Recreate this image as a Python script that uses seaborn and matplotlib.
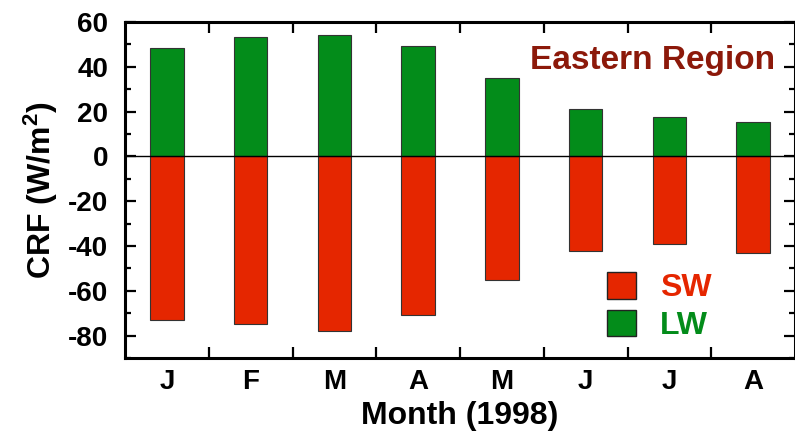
import matplotlib
matplotlib.use("Agg")
import matplotlib.pyplot as plt
import seaborn as sns
import pandas as pd
from matplotlib.ticker import MultipleLocator, FixedLocator
from matplotlib.patches import Patch

months = ["Jan", "Feb", "Mar", "Apr", "May", "Jun", "Jul", "Aug"]
month_labels = ["J", "F", "M", "A", "M", "J", "J", "A"]
lw_values = [48.5, 53.1, 54.2, 49.4, 35.1, 21.3, 17.6, 15.5]
sw_values = [-73.1, -74.9, -77.8, -70.6, -55.1, -42.2, -39.0, -43.1]
series_names = ["SW", "LW"]
colors = {"SW": "#e52600", "LW": "#038c1a"}
title_color = "#8c190a"

sns.set_style("ticks")
plt.rcParams["font.family"] = ["Liberation Sans", "DejaVu Sans"]
plt.rcParams["font.weight"] = "bold"
plt.rcParams["mathtext.fontset"] = "custom"
plt.rcParams["mathtext.rm"] = "Liberation Sans:bold"
plt.rcParams["mathtext.bf"] = "Liberation Sans:bold"
plt.rcParams["mathtext.default"] = "rm"
plt.rcParams["axes.unicode_minus"] = False
for k in ["text.color", "axes.labelcolor", "xtick.color", "ytick.color",
          "axes.edgecolor"]:
    plt.rcParams[k] = "black"

df = pd.DataFrame({
    "month": months * 2,
    "CRF": sw_values + lw_values,
    "type": ["SW"] * len(months) + ["LW"] * len(months),
})

fig = plt.figure(figsize=(7.95, 4.45), dpi=100)
W, H = 795, 445
ax = fig.add_axes([125 / W, (H - 358) / H, 670 / W, 336 / H])

sns.barplot(data=df, x="month", y="CRF", hue="type", order=months,
            hue_order=series_names, palette=colors, dodge=False, width=0.4,
            saturation=1, edgecolor="#333333", linewidth=0.8, ax=ax,
            legend=False)

ax.axhline(0, color="black", lw=1.0, zorder=3)
ax.set_xlim(-0.5, 7.5)
ax.set_ylim(-90, 60)

# x ticks: marks at boundaries, labels at centers
ax.xaxis.set_major_locator(FixedLocator([i + 0.5 for i in range(7)]))
ax.xaxis.set_minor_locator(FixedLocator(list(range(8))))
ax.set_xticklabels([], minor=False)
ax.set_xticklabels(month_labels, minor=True)
ax.tick_params(axis="x", which="major", direction="in", length=8, width=1.6,
               top=True, bottom=True, color="black")
ax.tick_params(axis="x", which="minor", length=0, pad=8, labelsize=20,
               labelcolor="black")

ax.yaxis.set_major_locator(MultipleLocator(20))
ax.yaxis.set_minor_locator(MultipleLocator(10))
ax.tick_params(axis="y", which="major", direction="in", length=8, width=1.6,
               left=True, right=True, labelsize=20, pad=12, color="black",
               labelcolor="black")
ax.tick_params(axis="y", which="minor", direction="in", length=4.3, width=1.6,
               left=True, right=True, color="black")
for lab in ax.get_xticklabels(minor=True) + ax.get_yticklabels():
    lab.set_fontweight("bold")

for sp in ax.spines.values():
    sp.set_visible(True)
    sp.set_linewidth(2.2)
    sp.set_color("black")

ax.set_xlabel("Month (1998)", fontsize=23, fontweight="bold", labelpad=4,
              color="black")
ax.set_ylabel("CRF (W/m$^2$)", fontsize=23, fontweight="bold", labelpad=6,
              color="black")

ax.text(0.970, 0.859, "Eastern Region", transform=ax.transAxes, ha="right",
        va="baseline", fontsize=24, fontweight="bold", color=title_color)

handles = [Patch(facecolor=colors[s], edgecolor="#222222", linewidth=1.0, label=s)
           for s in series_names]
leg = ax.legend(handles=handles, loc="upper left",
                bbox_to_anchor=((607 - 125) / 670, (358 - 272) / 336),
                frameon=False, fontsize=23, handlelength=0.9, handleheight=0.9,
                handletextpad=0.75, labelspacing=0.2, borderpad=0,
                borderaxespad=0)
for txt, s in zip(leg.get_texts(), series_names):
    txt.set_color(colors[s])
    txt.set_fontweight("bold")

fig.savefig("out.png", dpi=100)
